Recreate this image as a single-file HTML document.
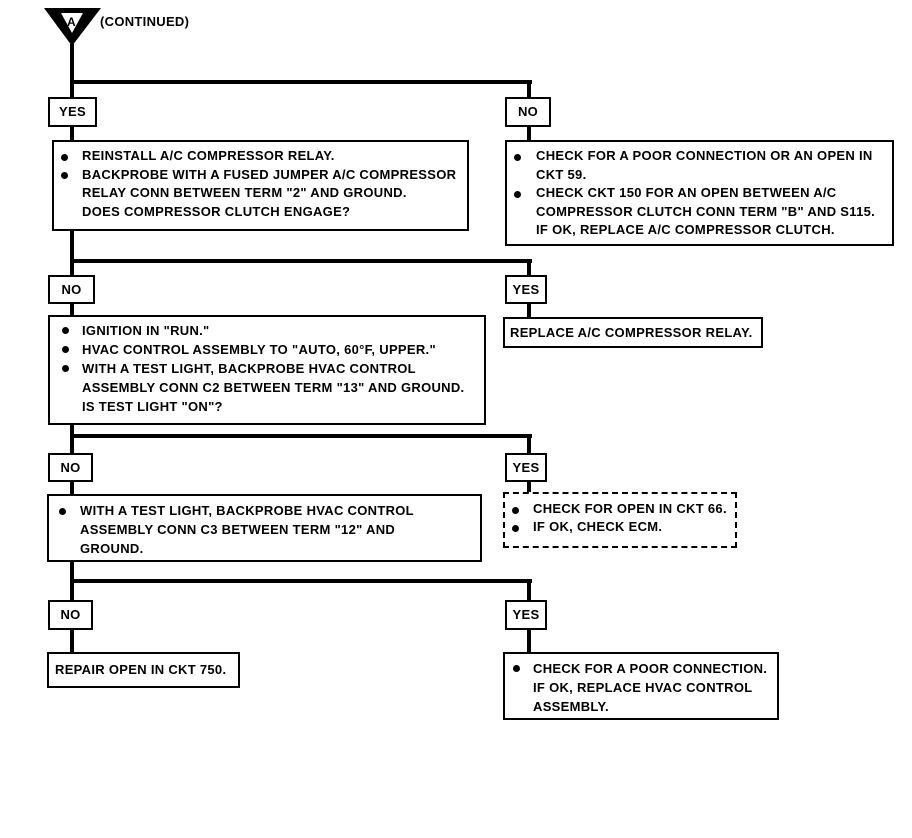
<!DOCTYPE html>
<html><head><meta charset="utf-8"><style>
body{margin:0;width:912px;height:838px;background:#fff;position:relative;overflow:hidden;font-family:"Liberation Sans",sans-serif;font-weight:bold;font-size:13px;letter-spacing:0.3px;color:#000}
.l{position:absolute;background:#000}
.b{position:absolute;border:2px solid #000;box-sizing:border-box;background:#fff}
.t{position:absolute;white-space:nowrap;line-height:19px}
.lbl{position:absolute;border:2px solid #000;box-sizing:border-box;background:#fff;text-align:center;line-height:26px}
.bu{position:absolute;width:7px;height:7px;border-radius:50%;background:#000}
</style></head><body>
<svg style="position:absolute;left:0;top:0" width="912" height="838">
<polygon points="44,8 101,8 72,46" fill="#000"/>
<polygon points="61,13 83,13 72,33" fill="#fff"/>
<text x="67" y="26" font-family="Liberation Sans" font-weight="bold" font-size="12">A</text>
</svg>
<div class="t" style="left:100px;top:12px">(CONTINUED)</div>
<div class="l" style="left:70px;top:44px;width:4px;height:608px"></div>
<div class="l" style="left:70px;top:80px;width:462px;height:4px"></div>
<div class="l" style="left:527px;top:80px;width:4px;height:62px"></div>
<div class="l" style="left:70px;top:259px;width:462px;height:4px"></div>
<div class="l" style="left:527px;top:259px;width:4px;height:60px"></div>
<div class="l" style="left:70px;top:434px;width:462px;height:4px"></div>
<div class="l" style="left:527px;top:434px;width:4px;height:60px"></div>
<div class="l" style="left:70px;top:579px;width:462px;height:4px"></div>
<div class="l" style="left:527px;top:579px;width:4px;height:75px"></div>

<div class="lbl" style="left:48px;top:97px;width:49px;height:30px">YES</div>
<div class="lbl" style="left:505px;top:97px;width:46px;height:30px">NO</div>

<div class="b" style="left:52px;top:140px;width:417px;height:91px"></div>
<div class="bu" style="left:61px;top:154px"></div><div class="bu" style="left:61px;top:172px"></div>
<div class="t" style="left:82px;top:147px;line-height:18.5px">REINSTALL A/C COMPRESSOR RELAY.<br>BACKPROBE WITH A FUSED JUMPER A/C COMPRESSOR<br>RELAY CONN BETWEEN TERM "2" AND GROUND.<br>DOES COMPRESSOR CLUTCH ENGAGE?</div>

<div class="b" style="left:505px;top:140px;width:389px;height:106px"></div>
<div class="bu" style="left:514px;top:154px"></div><div class="bu" style="left:514px;top:191px"></div>
<div class="t" style="left:536px;top:147px;line-height:18.5px">CHECK FOR A POOR CONNECTION OR AN OPEN IN<br>CKT 59.<br>CHECK CKT 150 FOR AN OPEN BETWEEN A/C<br>COMPRESSOR CLUTCH CONN TERM "B" AND S115.<br>IF OK, REPLACE A/C COMPRESSOR CLUTCH.</div>

<div class="lbl" style="left:48px;top:275px;width:47px;height:29px">NO</div>
<div class="lbl" style="left:505px;top:275px;width:42px;height:29px">YES</div>

<div class="b" style="left:48px;top:315px;width:438px;height:110px"></div>
<div class="bu" style="left:62px;top:327px"></div><div class="bu" style="left:62px;top:346px"></div><div class="bu" style="left:62px;top:365px"></div>
<div class="t" style="left:82px;top:321px">IGNITION IN "RUN."<br>HVAC CONTROL ASSEMBLY TO "AUTO, 60°F, UPPER."<br>WITH A TEST LIGHT, BACKPROBE HVAC CONTROL<br>ASSEMBLY CONN C2 BETWEEN TERM "13" AND GROUND.<br>IS TEST LIGHT "ON"?</div>

<div class="b" style="left:503px;top:317px;width:260px;height:31px"></div>
<div class="t" style="left:510px;top:323px">REPLACE A/C COMPRESSOR RELAY.</div>

<div class="lbl" style="left:48px;top:453px;width:45px;height:29px">NO</div>
<div class="lbl" style="left:505px;top:453px;width:42px;height:29px">YES</div>

<div class="b" style="left:47px;top:494px;width:435px;height:68px"></div>
<div class="bu" style="left:59px;top:508px"></div>
<div class="t" style="left:80px;top:501px">WITH A TEST LIGHT, BACKPROBE HVAC CONTROL<br>ASSEMBLY CONN C3 BETWEEN TERM "12" AND<br>GROUND.</div>

<div class="b" style="left:503px;top:492px;width:234px;height:56px;border-style:dashed"></div>
<div class="bu" style="left:512px;top:507px"></div><div class="bu" style="left:512px;top:525px"></div>
<div class="t" style="left:533px;top:500px;line-height:18px">CHECK FOR OPEN IN CKT 66.<br>IF OK, CHECK ECM.</div>

<div class="lbl" style="left:48px;top:600px;width:45px;height:30px">NO</div>
<div class="lbl" style="left:505px;top:600px;width:42px;height:30px">YES</div>

<div class="b" style="left:47px;top:652px;width:193px;height:36px"></div>
<div class="t" style="left:55px;top:660px">REPAIR OPEN IN CKT 750.</div>

<div class="b" style="left:503px;top:652px;width:276px;height:68px"></div>
<div class="bu" style="left:513px;top:665px"></div>
<div class="t" style="left:533px;top:659px">CHECK FOR A POOR CONNECTION.<br>IF OK, REPLACE HVAC CONTROL<br>ASSEMBLY.</div>
</body></html>
